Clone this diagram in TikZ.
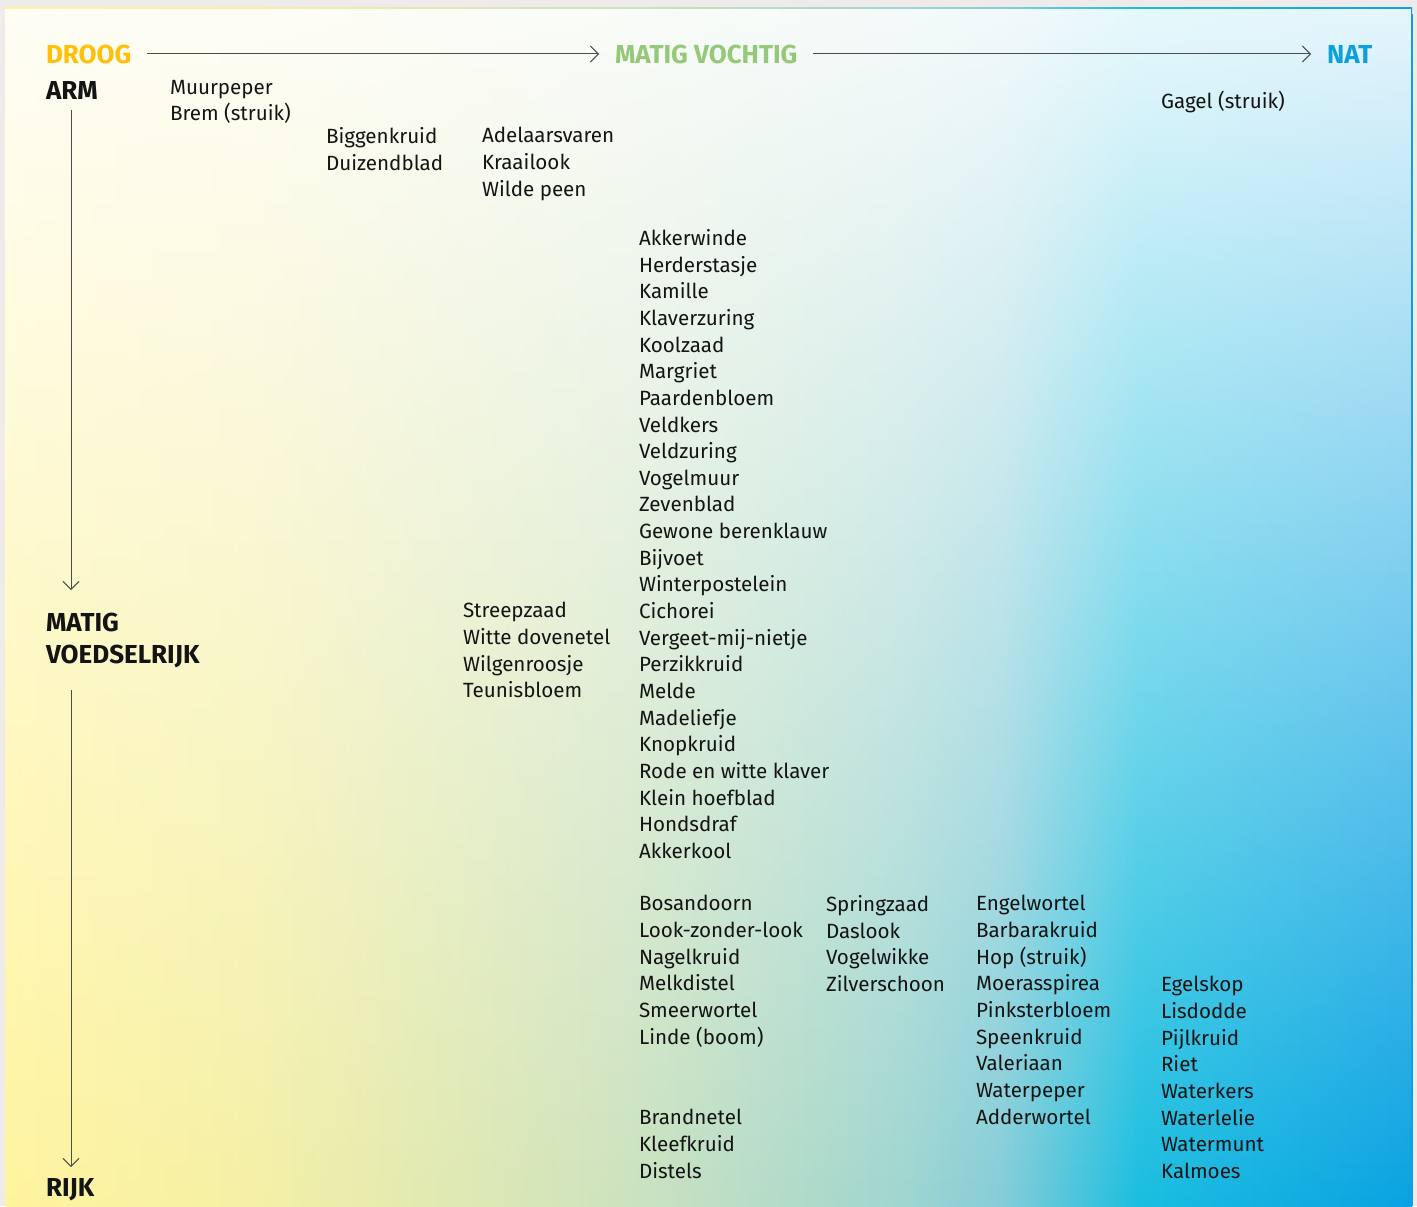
\documentclass[tikz,border=0pt]{standalone}
\usepackage{fontspec}
\setmainfont{Fira Sans}
\usetikzlibrary{arrows.meta, fadings}
\definecolor{frame}{HTML}{EFEBEB}
\definecolor{ink}{HTML}{141414}
\definecolor{droogc}{HTML}{FFBF0A}
\definecolor{vochtc}{HTML}{96C87A}
\definecolor{natc}{HTML}{0EA0DE}
\definecolor{bgdry}{HTML}{FFF49E}
\definecolor{bgsand}{HTML}{F5F0A5}
\definecolor{bggrass}{HTML}{CDE3BE}
\definecolor{bgreed}{HTML}{A0D6D0}
\definecolor{bgshore}{HTML}{85CDD8}
\definecolor{bgcyan}{HTML}{1ABEE0}
\definecolor{bgwet}{HTML}{0AA2E2}
\pgfdeclarehorizontalshading{moisture}{100bp}{color(0bp)=(bgdry); color(25bp)=(bgdry); color(33.7bp)=(bgsand); color(46.9bp)=(bggrass); color(56.8bp)=(bgreed); color(60.4bp)=(bgshore); color(65.3bp)=(bgcyan); color(75bp)=(bgwet); color(100bp)=(bgwet)}
\tikzfading[name=topfade, top color=transparent!10, bottom color=transparent!100]
\tikzstyle{plant} = [anchor=north west, inner sep=0pt, outer sep=0pt, align=left, text=ink, font=\fontsize{10.3}{13.33}\selectfont, execute at begin node=\strut]
\tikzstyle{head} = [anchor=base west, inner sep=0pt, outer sep=0pt, text=ink, font=\fontsize{13}{16}\selectfont\bfseries]
\tikzstyle{arrow} = [line width=0.5pt, draw=black!70, -{Straight Barb[length=4pt,width=8pt]}, shorten <=8pt, shorten >=8pt]

\begin{document}
\begin{tikzpicture}[x=0.5pt, y=-0.5pt]
\useasboundingbox (0,0) rectangle (1417,1206);
\fill[frame] (0,0) rectangle (1417,1206);
\shade[shading=moisture] (5,7) rectangle (1412,1206);
\fill[white, path fading=topfade] (5,7) rectangle (1412,1206);
\draw[natc, line width=0.5pt] (1412,14) -- (1412,1206);

% axes
\node (droog) [head, text=droogc] at (46,63) {DROOG};
\node (matig) [head, text=vochtc] at (615,63) {MATIG VOCHTIG};
\node (nat) [head, text=natc] at (1327,63) {NAT};
\node (arm) [head] at (46,99) {ARM};
\node (voedsel) [head, anchor=north west, align=left] at (46,613) {MATIG\\VOEDSELRIJK};
\node (rijk) [head] at (46,1196) {RIJK};
\coordinate (axis) at (71,0);

\draw [arrow] (droog) -- (matig);
\draw [arrow] (matig.east) -- (nat.west |- matig.east);
\draw [arrow, shorten <=5.5pt, shorten >=11.5pt] (arm.south -| axis) -- (voedsel.north -| axis);
\draw [arrow, shorten <=11pt, shorten >=5.5pt] (voedsel.south -| axis) -- (rijk.north -| axis);

% plants
\node (schraal) [plant] at (170,80) {Muurpeper\\Brem (struik)};
\node (heide) [plant] at (326,127.3) {Biggenkruid\\Duizendblad};
\node (zoom) [plant] at (482,127.3) {Adelaarsvaren\\Kraailook\\Wilde peen};
\node (gagel) [plant] at (1161,89.8) {Gagel (struik)};
\node (akker) [plant] at (639,229.3) {Akkerwinde\\Herderstasje\\Kamille\\Klaverzuring\\Koolzaad\\Margriet\\Paardenbloem\\Veldkers\\Veldzuring\\Vogelmuur\\Zevenblad\\Gewone berenklauw\\Bijvoet\\Winterpostelein\\Cichorei\\Vergeet-mij-nietje\\Perzikkruid\\Melde\\Madeliefje\\Knopkruid\\Rode en witte klaver\\Klein hoefblad\\Hondsdraf\\Akkerkool};
\node (ruigte) [plant] at (463,602.3) {Streepzaad\\Witte dovenetel\\Wilgenroosje\\Teunisbloem};
\node (bos) [plant] at (639,895.3) {Bosandoorn\\Look-zonder-look\\Nagelkruid\\Melkdistel\\Smeerwortel\\Linde (boom)};
\node (stikstof) [plant] at (639,1109.3) {Brandnetel\\Kleefkruid\\Distels};
\node (vochtig) [plant] at (826,895.3) {Springzaad\\Daslook\\Vogelwikke\\Zilverschoon};
\node (oever) [plant] at (976,895.3) {Engelwortel\\Barbarakruid\\Hop (struik)\\Moerasspirea\\Pinksterbloem\\Speenkruid\\Valeriaan\\Waterpeper\\Adderwortel};
\node (moeras) [plant] at (1161,976.3) {Egelskop\\Lisdodde\\Pijlkruid\\Riet\\Waterkers\\Waterlelie\\Watermunt\\Kalmoes};

\end{tikzpicture}
\end{document}
